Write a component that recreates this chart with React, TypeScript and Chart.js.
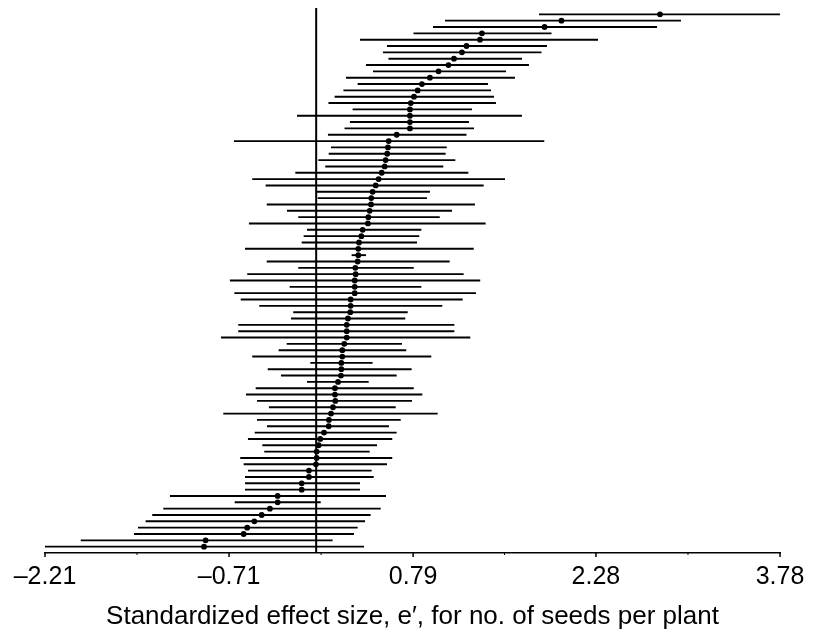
import React, { useEffect, useRef } from "react";
import { Chart, registerables } from "chart.js";

Chart.register(...registerables);

// Effect sizes (point estimates) per study, top to bottom
const estimate: number[] = [
  2.802, 1.999, 1.861, 1.351, 1.335, 1.225, 1.188, 1.123, 1.078, 0.997,
  0.927, 0.862, 0.827, 0.797, 0.771, 0.764, 0.764, 0.764, 0.764, 0.656,
  0.591, 0.585, 0.579, 0.566, 0.558, 0.534, 0.509, 0.485, 0.46, 0.449,
  0.447, 0.436, 0.425, 0.422, 0.379, 0.368, 0.349, 0.343, 0.343, 0.338,
  0.319, 0.322, 0.314, 0.314, 0.314, 0.281, 0.281, 0.278, 0.259, 0.249,
  0.249, 0.249, 0.229, 0.213, 0.213, 0.205, 0.205, 0.202, 0.178, 0.153,
  0.153, 0.156, 0.137, 0.121, 0.104, 0.102, 0.064, 0.033, 0.02, 0.004,
  0.004, -0.002, -0.059, -0.059, -0.118, -0.118, -0.314, -0.314, -0.377, -0.444,
  -0.504, -0.562, -0.591, -0.901, -0.914,
];

// Lower confidence limits
const lower: number[] = [
  1.816, 1.05, 0.952, 0.793, 0.357, 0.577, 0.544, 0.589, 0.406, 0.463,
  0.243, 0.338, 0.222, 0.15, 0.1, 0.297, -0.156, 0.275, 0.231, 0.096,
  -0.67, 0.121, 0.102, 0.017, 0.074, -0.17, -0.521, -0.412, 0.004, 0.012,
  -0.403, -0.238, -0.146, -0.548, -0.075, -0.102, -0.118, -0.58, 0.289, -0.403,
  -0.146, -0.562, -0.703, -0.216, -0.667, -0.615, -0.464, -0.187, -0.205, -0.635,
  -0.635, -0.776, -0.24, -0.306, -0.521, -0.048, -0.395, -0.287, -0.075, -0.493,
  -0.572, -0.482, -0.385, -0.757, -0.482, -0.401, -0.501, -0.556, -0.439, -0.423,
  -0.619, -0.591, -0.556, -0.58, -0.58, -0.58, -1.192, -0.664, -1.246, -1.336,
  -1.39, -1.452, -1.485, -1.919, -2.21,
];

// Upper confidence limits
const upper: number[] = [
  3.78, 2.973, 2.778, 1.918, 2.297, 1.881, 1.836, 1.677, 1.734, 1.547,
  1.62, 1.4, 1.425, 1.449, 1.465, 1.27, 1.677, 1.245, 1.286, 1.225,
  1.859, 1.064, 1.055, 1.134, 1.036, 1.24, 1.539, 1.365, 0.927, 0.903,
  1.294, 1.107, 1.007, 1.381, 0.857, 0.84, 0.822, 1.284, 0.406, 1.088,
  0.795, 1.202, 1.337, 0.857, 1.302, 1.194, 1.028, 0.746, 0.726, 1.126,
  1.126, 1.256, 0.699, 0.734, 0.938, 0.46, 0.778, 0.656, 0.428, 0.795,
  0.865, 0.781, 0.648, 0.99, 0.689, 0.593, 0.656, 0.62, 0.496, 0.436,
  0.62, 0.577, 0.452, 0.469, 0.357, 0.357, 0.569, 0.037, 0.526, 0.444,
  0.398, 0.338, 0.308, 0.134, 0.39,
];

const xMajorTicks: number[] = [-2.21, -0.71, 0.79, 2.28, 3.78];
const xMinorTicks: number[] = [-1.46, 0.04, 1.535, 3.03];
const xTitle = "Standardized effect size, e\u2032, for no. of seeds per plant";

const FONT = "'Liberation Sans', Arial, Helvetica, sans-serif";

const forestPlugin = {
  id: "forest",
  beforeDatasetsDraw(chart: any) {
    const { ctx, chartArea, scales } = chart;
    const xs = scales.x;
    const ys = scales.y;
    ctx.save();
    ctx.strokeStyle = "#000";
    // zero reference line
    ctx.lineWidth = 2;
    ctx.beginPath();
    const x0 = xs.getPixelForValue(0);
    ctx.moveTo(x0, chartArea.top);
    ctx.lineTo(x0, chartArea.bottom);
    ctx.stroke();
    // confidence intervals
    ctx.lineWidth = 1.9;
    for (let i = 0; i < estimate.length; i++) {
      const y = ys.getPixelForValue(i + 1);
      ctx.beginPath();
      ctx.moveTo(xs.getPixelForValue(lower[i]), y);
      ctx.lineTo(xs.getPixelForValue(upper[i]), y);
      ctx.stroke();
    }
    // axis tick marks
    ctx.lineWidth = 1.5;
    const b = chartArea.bottom;
    xMajorTicks.forEach((v) => {
      const px = xs.getPixelForValue(v);
      ctx.beginPath();
      ctx.moveTo(px, b);
      ctx.lineTo(px, b + 4);
      ctx.stroke();
    });
    ctx.lineWidth = 1;
    xMinorTicks.forEach((v) => {
      const px = xs.getPixelForValue(v);
      ctx.beginPath();
      ctx.moveTo(px, b);
      ctx.lineTo(px, b + 2);
      ctx.stroke();
    });
    ctx.restore();
  },
};

export default function App() {
  const ref = useRef<HTMLCanvasElement | null>(null);
  useEffect(() => {
    if (!ref.current) return;
    const chart = new Chart(ref.current, {
      type: "scatter",
      data: {
        datasets: [
          {
            data: estimate.map((v, i) => ({ x: v, y: i + 1 })),
            pointRadius: 2.9,
            pointBackgroundColor: "#000",
            pointBorderColor: "#000",
            pointBorderWidth: 0,
          },
        ],
      },
      options: {
        animation: false,
        responsive: false,
        maintainAspectRatio: false,
        layout: { padding: { left: 45, right: 40, top: 8, bottom: 0 } },
        plugins: {
          legend: { display: false },
          tooltip: { enabled: false },
        },
        scales: {
          x: {
            type: "linear",
            min: -2.21,
            max: 3.78,
            afterBuildTicks: (scale: any) => {
              scale.ticks = xMajorTicks.map((v) => ({ value: v }));
            },
            grid: { display: false, drawTicks: false },
            border: { display: true, color: "#000", width: 1.5 },
            ticks: {
              padding: 9.5,
              color: "#000",
              font: { family: FONT, size: 25, lineHeight: 1.2 },
              maxRotation: 0,
              autoSkip: false,
              callback: (v: any) => {
                const n = Number(v);
                const s = Math.abs(n).toFixed(2);
                return n < 0 ? "\u2013" + s : s;
              },
            },
            title: {
              display: true,
              text: xTitle,
              color: "#000",
              font: { family: FONT, size: 26, lineHeight: 1.0 },
              padding: { top: 2, bottom: 0 },
            },
          },
          y: {
            type: "linear",
            min: 0,
            max: 86,
            reverse: true,
            display: false,
          },
        },
      },
      plugins: [forestPlugin],
    });
    return () => chart.destroy();
  }, []);
  return (
    <div style={{ position: "absolute", left: 0, top: 0, width: 820, height: 630, background: "#fff" }}>
      <canvas ref={ref} width={820} height={630} style={{ width: 820, height: 630 }} />
    </div>
  );
}
